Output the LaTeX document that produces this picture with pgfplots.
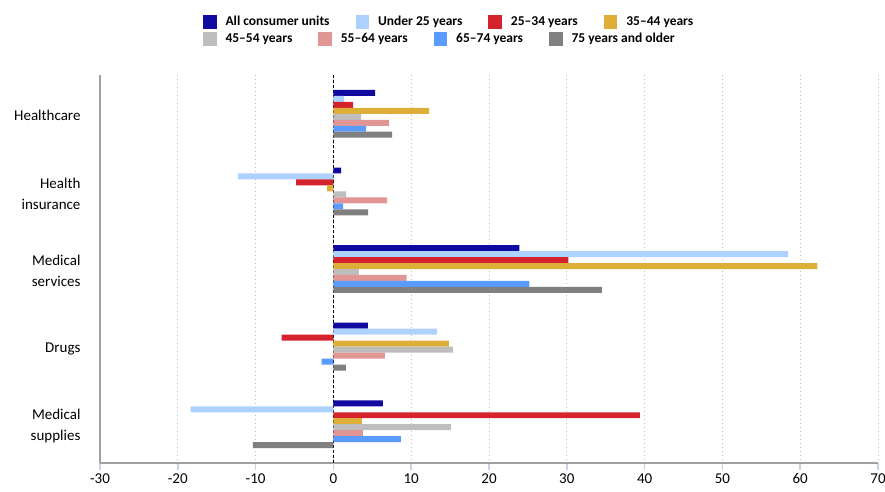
\documentclass[border=0pt]{standalone}
\usepackage{fontspec}
\setmainfont{Carlito}
\usepackage{pgfplots}
\usepackage{pgfplotstable}
\pgfplotsset{compat=1.18}

\definecolor{cAll}{RGB}{17,9,160}
\definecolor{cUnder}{RGB}{174,210,255}
\definecolor{cA}{RGB}{212,35,44}
\definecolor{cB}{RGB}{221,175,56}
\definecolor{cC}{RGB}{190,190,190}
\definecolor{cD}{RGB}{225,150,150}
\definecolor{cE}{RGB}{90,155,255}
\definecolor{cF}{RGB}{128,128,128}
\definecolor{axisgray}{RGB}{160,160,160}
\definecolor{tickblue}{RGB}{196,212,230}

% Percent change in spending, by category (rows) and age group (columns)
\pgfplotstableread{
cat all    under  a2534  a3544  a4554  a5564  a6574  a75
0   5.35   1.37   2.53   12.3   3.55   7.15   4.2    7.54
1   0.98  -12.25 -4.8   -0.8    1.63   6.9    1.24   4.45
2   23.9   58.4   30.2   62.2   3.26   9.4    25.2   34.5
3   4.42   13.3  -6.64   14.85  15.36  6.6   -1.5    1.6
4   6.35  -18.35  39.4   3.65   15.1   3.78   8.67  -10.36
}\spend

\pgfplotsset{
  base/.style={
    scale only axis, width=778pt, height=388pt,
    at={(100pt,28pt)}, anchor=south west,
    xmin=-30, xmax=70, ymin=-0.5, ymax=4.5, y dir=reverse,
    legend columns=4,
    legend style={draw=none, fill=none, inner sep=0pt, outer sep=0pt,
      anchor=west, nodes={inner sep=0pt},
      font=\fontsize{13.5}{16}\selectfont\bfseries,
      /tikz/every odd column/.append style={column sep=9pt},
      /tikz/every even column/.append style={column sep=26pt}},
  },
  swatch/.style={legend image code/.code={\path[draw=none, fill=#1] (0pt,-7pt) rectangle (13.5pt,7pt);}},
  hbar/.style={xbar, draw=none, fill=#1, bar width=0.077, swatch=#1},
}

\begin{document}
\begin{tikzpicture}
\useasboundingbox (0,0) rectangle (885pt,491pt);
\begin{axis}[base,
  axis x line*=bottom, axis y line*=left,
  axis line style={axisgray, line width=1.6pt},
  xtick={-30,-20,...,70},
  ytick={0,1,2,3,4},
  yticklabels={Healthcare,{Health\\insurance},{Medical\\services},Drugs,{Medical\\supplies}},
  yticklabel style={align=right, font=\fontsize{15}{21}\selectfont, xshift=-9pt, yshift=-2pt},
  xticklabel style={font=\fontsize{15}{18}\selectfont},
  /pgf/number format/assume math mode=true,
  tick align=outside, major tick length=7pt,
  x tick style={draw=tickblue, line width=1.5pt},
  y tick style={draw=none},
  xmajorgrids,
  major grid style={draw=gray!55, line width=0.9pt, dash pattern=on 1pt off 3pt},
  extra x ticks={0}, extra x tick labels={},
  extra x tick style={grid=major, major grid style={draw=black, line width=1.2pt, dash pattern=on 3pt off 2pt}},
  legend style={at={(axis description cs:0.1324,1.1366)}},
]
\addplot[hbar=cAll,   bar shift=-0.2695] table[x=all,   y=cat] {\spend};
\addplot[hbar=cUnder, bar shift=-0.1925] table[x=under, y=cat] {\spend};
\addplot[hbar=cA,     bar shift=-0.1155] table[x=a2534, y=cat] {\spend};
\addplot[hbar=cB,     bar shift=-0.0385] table[x=a3544, y=cat] {\spend};
\addplot[hbar=cC,     bar shift=0.0385]  table[x=a4554, y=cat] {\spend};
\addplot[hbar=cD,     bar shift=0.1155]  table[x=a5564, y=cat] {\spend};
\addplot[hbar=cE,     bar shift=0.1925]  table[x=a6574, y=cat] {\spend};
\addplot[hbar=cF,     bar shift=0.2695]  table[x=a75,   y=cat] {\spend};
\legend{All consumer units, Under 25 years, 25--34 years, 35--44 years}
\end{axis}
% second legend row
\begin{axis}[base, hide axis,
  legend style={at={(axis description cs:0.1324,1.0928)}},
]
\addlegendimage{swatch=cC}
\addlegendimage{swatch=cD}
\addlegendimage{swatch=cE}
\addlegendimage{swatch=cF}
\legend{45--54 years, 55--64 years, 65--74 years, 75 years and older}
\end{axis}
\end{tikzpicture}
\end{document}
